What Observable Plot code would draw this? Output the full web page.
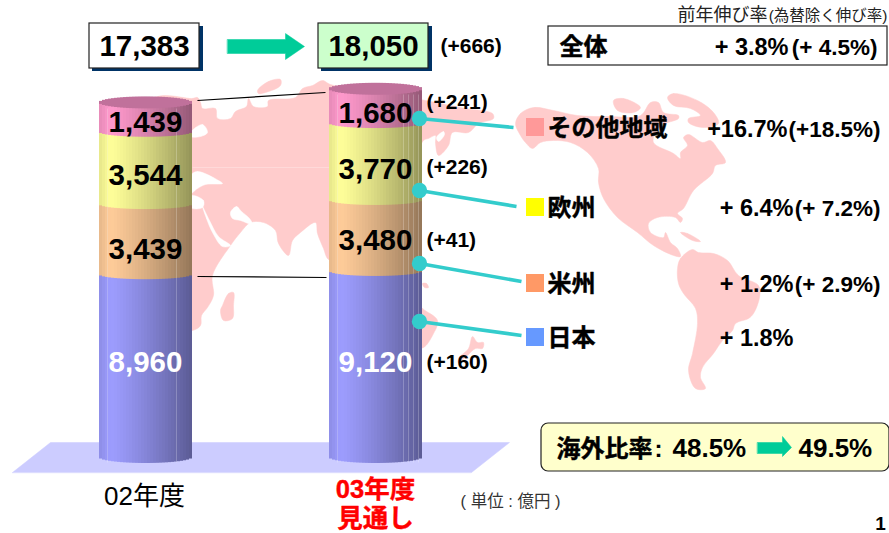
<!DOCTYPE html>
<html><head><meta charset="utf-8">
<script src="https://cdn.jsdelivr.net/npm/d3@7"></script>
<script src="https://cdn.jsdelivr.net/npm/@observablehq/plot@0.6"></script>
<style>html,body{margin:0;background:#fff}svg{display:block}</style>
</head><body><div id="chart"></div>
<script>
// ---- values (億円) ----
const regions   = ["日本", "米州", "欧州", "その他地域"];
const fy02      = [8960, 3439, 3544, 1439];
const fy03      = [9120, 3480, 3770, 1680];
const deltas    = ["(+160)", "(+41)", "(+226)", "(+241)"];
const growth    = ["+ 1.8%", "+ 1.2%", "+ 6.4%", "+16.7%"];
const growthFx  = ["", "(+ 2.9%)", "(+ 7.2%)", "(+18.5%)"];
const totals    = ["17,383", "18,050"];
const totalDiff = "(+666)";
const allGrowth = ["+ 3.8%", "(+ 4.5%)"];
const overseas  = ["48.5%", "49.5%"];

// ---- world-map backdrop outlines ----
const eurasia = [[150,100],[192,98],[197,97],[200,102],[202,108],[215,108],[217,118],[230,118],[235,111],[246,106],[248,98],[253,106],[267,106],[268,100],[295,97],[302,88],[312,85],[322,80],[330,84],[370,90],[425,100],[465,108],[492,113],[493,118],[478,123],[468,132],[452,132],[448,145],[438,155],[435,143],[435,135],[428,138],[423,140],[400,200],[345,262],[328,259],[323,248],[317,233],[315,222],[300,232],[292,240],[288,255],[278,243],[275,230],[263,222],[250,222],[240,232],[230,245],[212,275],[213,295],[207,307],[201,315],[200,325],[192,330],[150,330]];
const seas = [
  [[190,132],[202,124],[207,132],[200,136],[190,136]],
  [[190,175],[197,171],[218,180],[222,183],[205,184],[197,188],[190,193]],
  [[190,195],[203,200],[202,207],[190,207]],
  [[202,206],[206,218],[212,232],[222,246],[230,245],[218,236],[209,220]],
  [[230,212],[236,206],[241,211],[249,218],[252,224],[240,220],[232,218]],
  [[436,137],[443,131],[444,134],[438,141]]
];
const islands = [
  [[257,90],[268,81],[280,79],[280,85],[265,92],[258,93]],
  [[222,305],[228,293],[233,292],[233,305],[232,318],[223,320],[220,310]],
  [[422,283],[426,283],[428,287],[424,287]],
  [[415,300],[422,308],[437,320],[432,335],[423,347],[415,347]],
  [[472,336],[477,342],[483,342],[482,348],[475,348],[467,355],[458,362],[458,358],[468,348]],
  [[667,97],[673,93],[697,100],[713,112],[718,123],[702,127],[688,122],[688,118],[700,115],[690,108],[673,105]],
  [[613,100],[623,98],[640,107],[633,112],[617,110]],
  [[680,232],[687,233],[700,241],[692,240]]
];
const northAmerica = [[515,123],[520,113],[533,107],[553,110],[577,115],[610,116],[640,115],[650,102],[658,102],[663,112],[678,115],[678,118],[660,125],[655,132],[653,142],[673,153],[680,158],[680,152],[687,145],[683,137],[688,134],[702,142],[710,140],[717,148],[725,162],[715,165],[712,173],[693,190],[683,208],[677,213],[682,218],[680,222],[675,217],[657,217],[648,223],[650,232],[663,237],[665,232],[670,242],[677,248],[680,256],[673,255],[653,245],[637,232],[617,217],[603,198],[598,182],[598,168],[587,152],[570,142],[553,140],[540,142],[532,148],[525,142],[520,135]];
const southAmerica = [[677,268],[680,258],[692,249],[698,252],[713,253],[727,260],[738,275],[758,285],[759,297],[753,313],[748,318],[735,323],[732,330],[722,340],[713,353],[702,367],[700,377],[705,388],[695,388],[688,370],[692,353],[697,323],[695,308],[683,293],[678,283]];

// ---- layout ----
const K = 0.0204, BASE = 457;           // px per 億円, baseline pixel
const Y = p => (BASE - p) / K;          // layout pixel -> y-scale value
const FONT = "'Liberation Sans','Noto Sans CJK JP',sans-serif";
const STRIPE = 3, NSTRIPES = 31;
const barLeft = [99, 329], barMid = [145, 375];
const baseColors = ["#9d9dff", "#ffcc99", "#ffff99", "#ff99cc"];
const topColor = "#c0719b";
const labelY = [[362, 249, 175, 122], [362, 240, 169, 113]];
const deltaY = [362, 240, 167, 102];
const legendY = [337, 283, 207, 127];
const rowY = [338, 284, 208, 129];
const legendColors = ["#6699ff", "#ff9966", "#ffff00", "#ff9999"];
const dotY = [321, 263, 190, 118];
const lineEnd = [[521, 335], [521, 281], [516, 206], [513, 127]];
const sheen = [[107, 462, 108], [176, 462, 108], [337, 462, 94], [403, 462, 94], [408, 462, 94], [413, 462, 94], [418, 462, 94]];

function poly(points, fill, curve = "catmull-rom-closed") {
  return Plot.line(points, {x: d => d[0], y: d => Y(d[1]), fill, stroke: fill, strokeWidth: 0.5, curve});
}
function stripes(values, left) {
  const out = [], tops = [];
  let acc = 0;
  values.forEach((v, s) => {
    for (let i = 0; i < NSTRIPES; i++) {
      const t = (i + 0.5) / NSTRIPES;
      const e = 5 * Math.sqrt(1 - (2 * t - 1) ** 2);
      const eb = (s === 0 ? 6 : 5) * Math.sqrt(1 - (2 * t - 1) ** 2);
      const f = t < 0.12 ? 0.9 + t * 0.8 : 1 - 0.42 * ((t - 0.12) / 0.88) ** 1.2;
      const c = d3.rgb(baseColors[s]);
      out.push({x1: left + i * STRIPE, x2: left + (i + 1) * STRIPE,
        y1: acc - eb / K, y2: acc + v + e / K,
        fill: d3.rgb(c.r * f, c.g * f, c.b * f).formatHex(), order: s});
    }
    acc += v;
  });
  for (let i = 0; i < NSTRIPES; i++) {
    const t = (i + 0.5) / NSTRIPES;
    const e = 6 * Math.sqrt(1 - (2 * t - 1) ** 2);
    tops.push({x1: left + i * STRIPE, x2: left + (i + 1) * STRIPE, y1: acc - e / K, y2: acc + e / K, fill: topColor});
  }
  return [...out, ...tops];
}
const R = (x1, x2, p1, p2) => [{x1, x2, y1: Y(p2), y2: Y(p1)}];
const T = (rows, o) => Plot.text(rows, {x: d => d[0], y: d => Y(d[1]), text: d => d[2], fontFamily: FONT, lineAnchor: "middle", ...o});
const bold = {fontWeight: "bold", fill: "#000"};
const heavy = {...bold, stroke: "#000", strokeWidth: 0.45};

const marks = [
  // map backdrop
  poly(eurasia, "#ffcccc"),
  ...seas.map(s => poly(s, "#fff")),
  ...islands.map(s => poly(s, "#ffcccc")),
  poly(northAmerica, "#ffcccc"),
  poly(southAmerica, "#ffcccc"),
  Plot.link([{}], {x1: 192, x2: 329, y1: Y(167), y2: Y(167), stroke: "#ffd9d9", strokeWidth: 1}),
  // floor
  poly([[12,472],[50,442],[509,442],[471,472]], "#ccccff", "linear-closed"),
  // cylinders
  Plot.rect(stripes(fy02, barLeft[0]), {x1: "x1", x2: "x2", y1: "y1", y2: "y2", fill: "fill"}),
  Plot.rect(stripes(fy03, barLeft[1]), {x1: "x1", x2: "x2", y1: "y1", y2: "y2", fill: "fill"}),
  Plot.link(sheen, {x1: d => d[0], x2: d => d[0], y1: d => Y(d[1]), y2: d => Y(d[2]), stroke: "#fff", strokeOpacity: 0.22, strokeWidth: 1}),
  // connector lines between bars
  Plot.link([[197,100,325,92],[197,276,326,277]], {x1: d => d[0], y1: d => Y(d[1]), x2: d => d[2], y2: d => Y(d[3]), stroke: "#000", strokeWidth: 1.2}),
  // total boxes
  Plot.rect(R(92, 203, 26, 71), {x1: "x1", x2: "x2", y1: "y1", y2: "y2", fill: "#003366"}),
  Plot.rect(R(89, 199, 23, 68), {x1: "x1", x2: "x2", y1: "y1", y2: "y2", fill: "#fff", stroke: "#222", strokeWidth: 1.2}),
  Plot.rect(R(321, 432, 26, 71), {x1: "x1", x2: "x2", y1: "y1", y2: "y2", fill: "#003366"}),
  Plot.rect(R(318, 428, 23, 68), {x1: "x1", x2: "x2", y1: "y1", y2: "y2", fill: "#ccffcc", stroke: "#222", strokeWidth: 1.2}),
  poly([[227,39],[285,39],[285,33],[304,46],[285,59],[285,53],[227,53]], "#00cc99", "linear-closed"),
  // whole-company box
  Plot.rect(R(548, 887, 26, 65), {x1: "x1", x2: "x2", y1: "y1", y2: "y2", fill: "#fff", stroke: "#222", strokeWidth: 1.2}),
  // overseas-ratio box
  Plot.rect(R(541, 889, 423, 471), {x1: "x1", x2: "x2", y1: "y1", y2: "y2", fill: "#ffffcc", stroke: "#222", strokeWidth: 1.2, rx: 7}),
  poly([[757,442],[782,442],[782,436],[791,447],[782,456],[782,453],[757,453]], "#00cc99", "linear-closed"),
  // leader lines + dots
  Plot.link(dotY.map((y, i) => [419, y, ...lineEnd[i]]), {x1: d => d[0], y1: d => Y(d[1]), x2: d => d[2], y2: d => Y(d[3]), stroke: "#33cccc", strokeWidth: 3.6}),
  Plot.dot(dotY, {x: () => 419, y: d => Y(d), r: 7.7, fill: "#33cccc"}),
  // legend swatches
  Plot.rect(legendY.map((y, i) => ({x1: 526, x2: 544, y1: Y(y + 9), y2: Y(y - 9), fill: legendColors[i]})), {x1: "x1", x2: "x2", y1: "y1", y2: "y2", fill: "fill"}),
  // bar value labels
  T(fy02.map((v, i) => [barMid[0], labelY[0][i], d3.format(",")(v)]), {...bold, fontSize: 29.5, fill: (d, i) => i === 0 ? "#fff" : "#000"}),
  T(fy03.map((v, i) => [barMid[1], labelY[1][i], d3.format(",")(v)]), {...bold, fontSize: 29.5, fill: (d, i) => i === 0 ? "#fff" : "#000"}),
  T([[144, 46, totals[0]], [373, 46, totals[1]]], {...bold, fontSize: 29.5}),
  T(deltas.map((t, i) => [426, deltaY[i], t]), {...bold, fontSize: 21, textAnchor: "start"}),
  T([[440, 46, totalDiff]], {...bold, fontSize: 21, textAnchor: "start"}),
  // legend labels and growth rates
  T(regions.map((t, i) => [547, legendY[i] + 1, t]), {...heavy, fontSize: 24, textAnchor: "start"}),
  T(growth.map((t, i) => [i === 3 ? 787 : 793, rowY[i], t]), {...bold, fontSize: 23.5, textAnchor: "end"}),
  T(growthFx.map((t, i) => [880, rowY[i], t]), {...bold, fontSize: 22.5, textAnchor: "end"}),
  T([[559, 47, "全体"]], {...heavy, fontSize: 24, textAnchor: "start"}),
  T([[788, 47, allGrowth[0]]], {...bold, fontSize: 23.5, textAnchor: "end"}),
  T([[877, 47, allGrowth[1]]], {...bold, fontSize: 22.5, textAnchor: "end"}),
  T([[767, 15, "前年伸び率"]], {fontSize: 18, fill: "#222", textAnchor: "end"}),
  T([[887, 16, "(為替除く伸び率)"]], {fontSize: 15.5, fill: "#222", textAnchor: "end"}),
  // overseas ratio text
  T([[556, 449, "海外比率"]], {...heavy, fontSize: 24, textAnchor: "start"}),
  T([[658, 449, ":"]], {...bold, fontSize: 24}),
  T([[672, 448, overseas[0]], [798, 448, overseas[1]]], {...bold, fontSize: 26, textAnchor: "start"}),
  // category labels
  T([[144, 496, "02年度"]], {fontSize: 26, fill: "#000"}),
  T([[375, 489, "03年度"], [375, 518, "見通し"]], {fontWeight: "bold", fontSize: 25.5, fill: "#ff0000", stroke: "#ff0000", strokeWidth: 0.4}),
  T([[510, 501, "( 単位 : 億円 )"]], {fontSize: 16.5, fill: "#333"}),
  T([[880, 523, "1"]], {...bold, fontSize: 19})
];

const chart = Plot.plot({
  width: 889, height: 533, margin: 0,
  x: {domain: [0, 889], range: [0, 889], axis: null},
  y: {domain: [0, BASE / K], range: [BASE, 0], axis: null},
  color: {type: "identity"},
  style: {background: "#fff", fontFamily: FONT},
  marks
});
document.getElementById("chart").appendChild(chart);
</script></body></html>
